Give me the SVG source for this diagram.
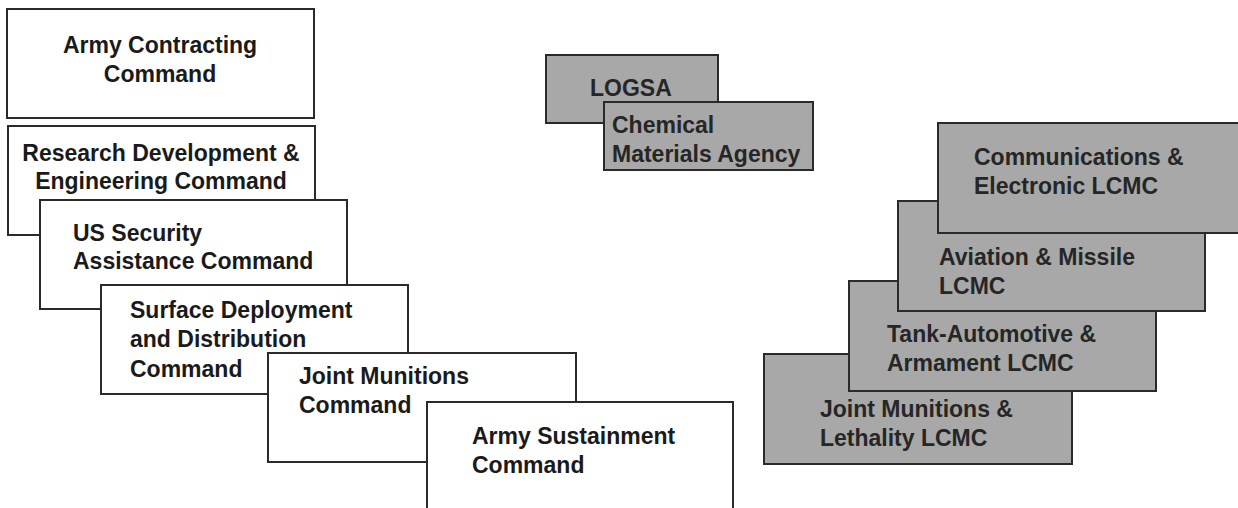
<svg xmlns="http://www.w3.org/2000/svg" width="1238" height="508" viewBox="0 0 1238 508">
  <style>
    .box { fill: #ffffff; stroke: #2a2a2a; stroke-width: 2; }
    .gbox { fill: #a8a8a8; stroke: #2a2a2a; stroke-width: 2; }
    text { font-family: "Liberation Sans", Arial, Helvetica, sans-serif; font-weight: bold; font-size: 23px; fill: #1a1a1a; }
    .g text { fill: #262626; }
    .c { text-anchor: middle; }
  </style>

  <!-- Left stack: white command boxes, each overlapping the previous -->
  <g id="acc">
    <rect class="box" x="7" y="9" width="307" height="109"/>
    <text class="c" x="160" y="53">Army Contracting</text>
    <text class="c" x="160" y="81.5">Command</text>
  </g>
  <g id="rdecom">
    <rect class="box" x="8" y="126" width="307" height="109"/>
    <text class="c" x="161" y="160.5">Research Development &amp;</text>
    <text class="c" x="161" y="189">Engineering Command</text>
  </g>
  <g id="usasac">
    <rect class="box" x="40" y="200" width="307" height="109"/>
    <text x="73" y="240.5">US Security</text>
    <text x="73" y="269">Assistance Command</text>
  </g>
  <g id="sddc">
    <rect class="box" x="101" y="285" width="307" height="109"/>
    <text x="130" y="318">Surface Deployment</text>
    <text x="130" y="347">and Distribution</text>
    <text x="130" y="376.5">Command</text>
  </g>
  <g id="jmc">
    <rect class="box" x="268" y="353" width="308" height="109"/>
    <text x="299" y="384">Joint Munitions</text>
    <text x="299" y="413">Command</text>
  </g>
  <g id="asc">
    <rect class="box" x="427" y="402" width="306" height="130"/>
    <text x="472" y="444">Army Sustainment</text>
    <text x="472" y="472.5">Command</text>
  </g>

  <!-- Middle pair: grey agency boxes -->
  <g id="logsa" class="g">
    <rect class="gbox" x="546" y="55" width="172" height="68"/>
    <text x="590" y="96">LOGSA</text>
  </g>
  <g id="cma" class="g">
    <rect class="gbox" x="604" y="102" width="209" height="68"/>
    <text x="612" y="133">Chemical</text>
    <text x="612" y="161.5">Materials Agency</text>
  </g>

  <!-- Right stack: grey LCMC boxes, drawn back to front -->
  <g id="jmlcmc" class="g">
    <rect class="gbox" x="764" y="354" width="308" height="110"/>
    <text x="820" y="417">Joint Munitions &amp;</text>
    <text x="820" y="446">Lethality LCMC</text>
  </g>
  <g id="tacom" class="g">
    <rect class="gbox" x="849" y="281" width="307" height="110"/>
    <text x="887" y="341.5">Tank-Automotive &amp;</text>
    <text x="887" y="370.5">Armament LCMC</text>
  </g>
  <g id="amcom" class="g">
    <rect class="gbox" x="898" y="201" width="307" height="110"/>
    <text x="939" y="265">Aviation &amp; Missile</text>
    <text x="939" y="294">LCMC</text>
  </g>
  <g id="cecom" class="g">
    <rect class="gbox" x="938" y="123" width="310" height="110"/>
    <text x="974" y="165">Communications &amp;</text>
    <text x="974" y="193.5">Electronic LCMC</text>
  </g>

  <!-- No connectors in this chart -->
  <g id="connectors"/>
</svg>
